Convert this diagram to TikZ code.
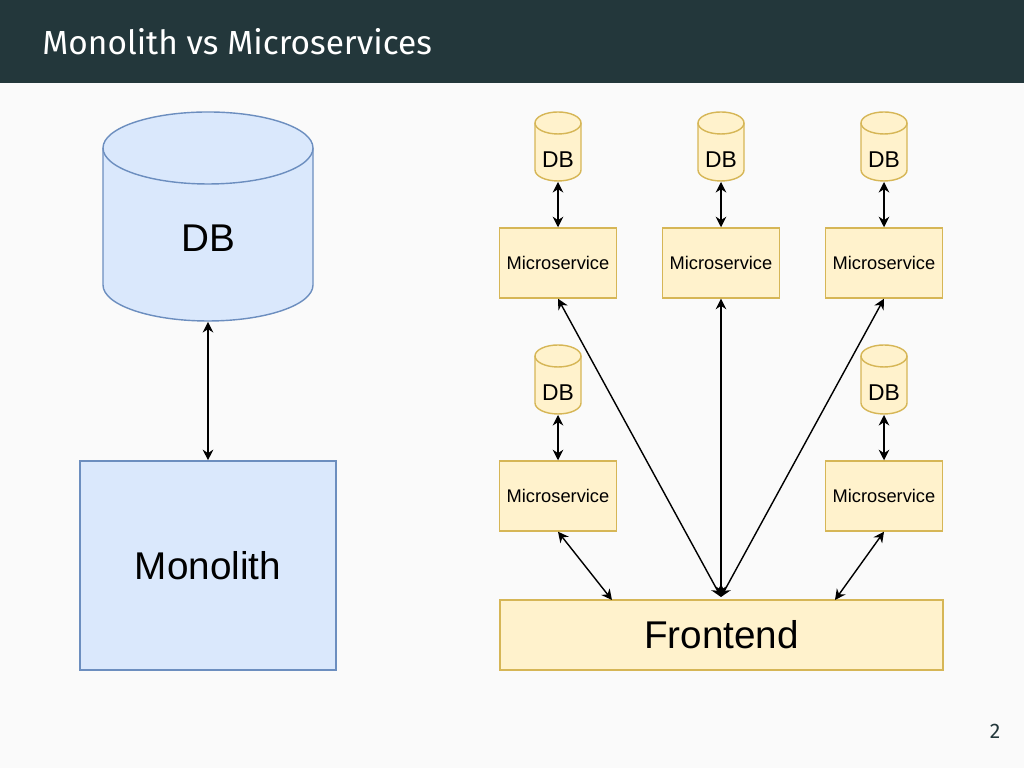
\documentclass[tikz,border=0pt]{standalone}
\usepackage{fontspec}
\setmainfont{Liberation Sans}
\newfontfamily\titlefont{Fira Sans}
\usetikzlibrary{arrows.meta,positioning}
\definecolor{barbg}{HTML}{23373B}
\definecolor{pagebg}{HTML}{FAFAFA}
\definecolor{bluefill}{HTML}{DAE8FC}
\definecolor{blueline}{HTML}{6C8EBF}
\definecolor{yelfill}{HTML}{FFF2CC}
\definecolor{yelline}{HTML}{D6B656}

\tikzset{
  bigbox/.style={draw=blueline,fill=bluefill,minimum width=2.56cm,minimum height=2.09cm,font=\fontsize{11}{13}\selectfont},
  svcbox/.style={draw=yelline,fill=yelfill,minimum width=1.17cm,minimum height=0.7cm,inner sep=0pt,font=\fontsize{5.2}{6}\selectfont},
  dblabel/.style={font=\fontsize{6.5}{8}\selectfont},
  link/.style={{Stealth[length=3pt,width=3pt]}-{Stealth[length=3pt,width=3pt]},line width=0.4pt}
}
% cylinder: centre x, top y, width, body height, half ellipse height, colours
\newcommand\dbdrum[7]{%
  \fill[#7] ({#1-#3/2},#2) -- ({#1-#3/2},{#2+#4}) arc[start angle=180,end angle=0,x radius={#3/2},y radius=#5] -- ({#1+#3/2},#2) -- cycle;
  \draw[#6] ({#1-#3/2},#2) -- ({#1-#3/2},{#2+#4}) arc[start angle=180,end angle=0,x radius={#3/2},y radius=#5] -- ({#1+#3/2},#2);
  \filldraw[draw=#6,fill=#7] (#1,#2) ellipse[x radius={#3/2},y radius=#5];
}

\begin{document}
\begin{tikzpicture}[x=0.01cm,y=-0.01cm]
  \fill[pagebg] (0,0) rectangle (1024,768);
  \fill[barbg] (0,0) rectangle (1024,83);
  \node[anchor=west,text=white,font=\titlefont\fontsize{9.5}{11}\selectfont] (title) at (30,42) {Monolith vs Microservices};
  \node[font=\titlefont\fontsize{6}{7}\selectfont,text=barbg] (page) at (995,731) {2};

  % monolith side
  \dbdrum{208}{148}{210}{137}{36}{blueline}{bluefill}
  \node[font=\fontsize{11}{13}\selectfont] (monodb) at (208,238) {DB};
  \coordinate (monodbbot) at (208,322);
  \node[bigbox] (mono) at (208,565.5) {Monolith};
  \draw[link] (monodbbot) -- (mono.north);

  % microservices side
  \foreach \x/\y/\n in {558/146/a,721/146/b,884/146/c,558/379/d,884/379/e}{
    \dbdrum{\x}{\y-23}{46}{47}{11}{yelline}{yelfill}
    \node[dblabel] (db\n) at (\x,\y+14) {DB};
    \coordinate (db\n bot) at (\x,\y+36);
  }
  \node[svcbox] (msa) at (558,263) {Microservice};
  \node[svcbox] (msb) at (721,263) {Microservice};
  \node[svcbox] (msc) at (884,263) {Microservice};
  \node[svcbox] (msd) at (558,496) {Microservice};
  \node[svcbox] (mse) at (884,496) {Microservice};
  \node[svcbox,minimum width=4.43cm,font=\fontsize{11}{13}\selectfont] (front) at (721.5,635) {Frontend};

  \foreach \n in {a,b,c,d,e}
    \draw[link] (db\n bot) -- (ms\n.north);

  \coordinate (fronttop) at (721,597);
  \draw[link] (fronttop) -- (msa.south);
  \draw[link] (fronttop) -- (msb.south);
  \draw[link] (fronttop) -- (msc.south);
  \draw[link] (msd.south) -- (612,600);
  \draw[link] (mse.south) -- (835,600);
\end{tikzpicture}
\end{document}
